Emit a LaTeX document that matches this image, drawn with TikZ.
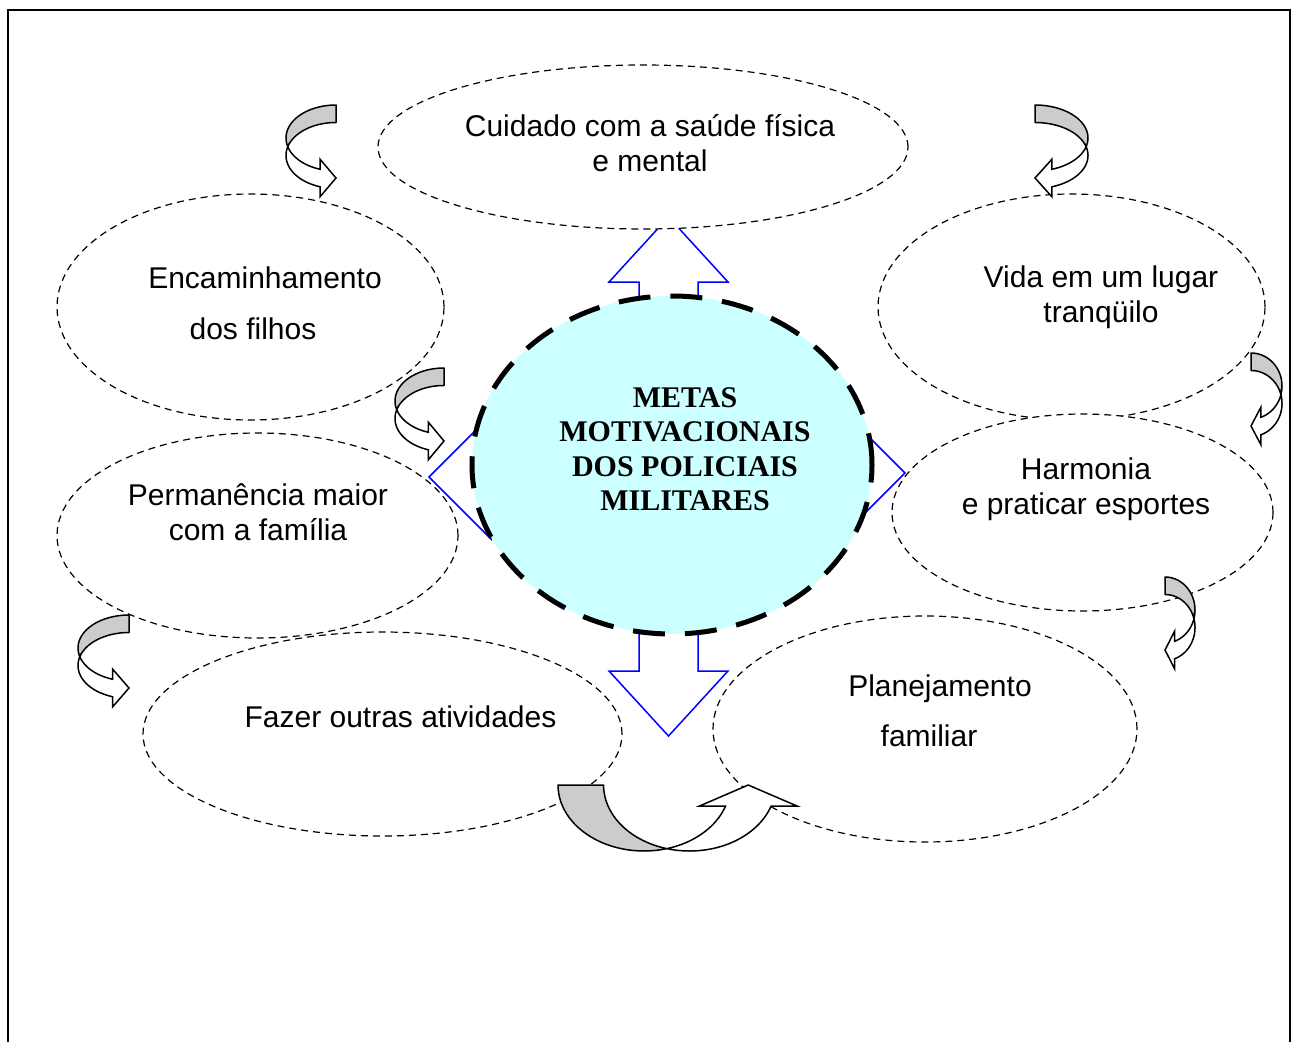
\documentclass[tikz,border=0pt]{standalone}
\usepackage{fontspec}
\setmainfont{Liberation Sans}
\newfontfamily\titleserif{Liberation Serif}
\usetikzlibrary{shapes.geometric}
\definecolor{goalcyan}{RGB}{204,255,255}

% ribbon arrow in a unit frame: outer ellipse centred at (0,0), inner one shifted down
\newcommand{\bentarrow}[1]{%
  \begin{scope}[#1]
    % back side (grey)
    \filldraw[ribbonback] plot[domain=90:195.37,samples=30,variable=\a] ({cos(\a)},{sin(\a)})
      -- plot[domain=164.63:90,samples=30,variable=\a] ({cos(\a)},{sin(\a)-0.53}) -- cycle;
    % front side with the head
    \filldraw[ribbonfront] plot[domain=195.37:251.34,samples=20,variable=\a] ({cos(\a)},{sin(\a)})
      -- (-0.32,-0.642) -- (0,-1.212) -- (-0.32,-1.782)
      -- plot[domain=251.34:164.63,samples=40,variable=\a] ({cos(\a)},{sin(\a)-0.53}) -- cycle;
  \end{scope}}

\begin{document}
\begin{tikzpicture}[x=1pt,y=-1pt,
  bubble/.style={ellipse,draw,fill=white,line width=1.2pt,dash pattern=on 7pt off 5pt,inner sep=0pt},
  goal/.style={ellipse,draw,fill=goalcyan,line width=5pt,dash pattern=on 32pt off 20pt,inner sep=0pt},
  txt/.style={align=center,font=\fontsize{30}{34.5}\selectfont},
  bluearrow/.style={draw=blue,line width=1.5pt,line join=miter},
  ribbonback/.style={fill=gray!40,draw=black,line width=1.5pt,line join=round},
  ribbonfront/.style={fill=white,draw=black,line width=1.5pt,line join=miter}]
\useasboundingbox (0,0) rectangle (1291,1042);

% frame
\draw[line width=1.2pt] (8,1042) -- (8,10) -- (1290,10) -- (1290,1042);

% -------- four-way arrow behind the centre ----------
\draw[bluearrow] (639,465) -- (639,282) -- (609,282) -- (668.5,217) -- (728,282) -- (698,282) -- (698,465);
\draw[bluearrow] (639,465) -- (639,671) -- (609,671) -- (668.5,736) -- (728,671) -- (698,671) -- (698,465);
\draw[bluearrow] (672,447) -- (491,447) -- (491,415) -- (429,477) -- (491,539) -- (491,507) -- (672,507);
\draw[bluearrow] (672,443) -- (843,443) -- (843,411) -- (905,473) -- (843,535) -- (843,503) -- (672,503);

% -------- goals ----------
\node[bubble,minimum width=530pt,minimum height=164pt] (cuidado) at (643,147) {};
\node[bubble,minimum width=387pt,minimum height=226pt] (filhos) at (250.5,307) {};
\node[bubble,minimum width=387pt,minimum height=226pt] (lugar) at (1071.5,307) {};
\node[bubble,minimum width=401pt,minimum height=205pt] (familia) at (257.5,535.5) {};
\node[bubble,minimum width=381pt,minimum height=197pt] (harmonia) at (1082.5,512.5) {};
\node[bubble,minimum width=479pt,minimum height=204pt] (atividades) at (382.5,734) {};
\node[bubble,minimum width=424pt,minimum height=226pt] (planejamento) at (925,729) {};

\node[txt] (cuidado-t) at (650,143) {Cuidado com a saúde física\\e mental};
\node[txt] (filhos-t) at (259,303.5) {\hspace*{12pt}Encaminhamento\\[16pt]dos filhos\hspace*{12pt}};
\node[txt] (lugar-t) at (1101,297) {Vida em um lugar\\tranqüilo};
\node[txt] (familia-t) at (258,512) {Permanência maior\\com a família};
\node[txt] (harmonia-t) at (1086,489) {Harmonia\\e praticar esportes};
\node[txt] (atividades-t) at (400.5,717) {Fazer outras atividades};
\node[txt] (planejamento-t) at (934.5,711) {\hspace*{11pt}Planejamento\\[16pt]familiar\hspace*{11pt}};

% -------- centre ----------
\node[goal,minimum width=400pt,minimum height=338pt] (metas) at (672,465) {};
\node[txt,font=\titleserif\bfseries\fontsize{30}{34.5}\selectfont] (metas-t) at (685,449)
  {METAS\\MOTIVACIONAIS\\DOS POLICIAIS\\MILITARES};

% -------- ribbon arrows ----------
\foreach \px/\py/\w in {336/138/50, 1035/138/-53, 444/401/49, 129/648/51, 1251/386/-31, 1165/610/-30}
  \bentarrow{shift={(\px,\py)},x={(\w pt,0pt)},y={(0pt,33pt)}};
\bentarrow{shift={(644,785)},x={(0pt,66pt)},y={(-86pt,0pt)}}
\end{tikzpicture}
\end{document}
